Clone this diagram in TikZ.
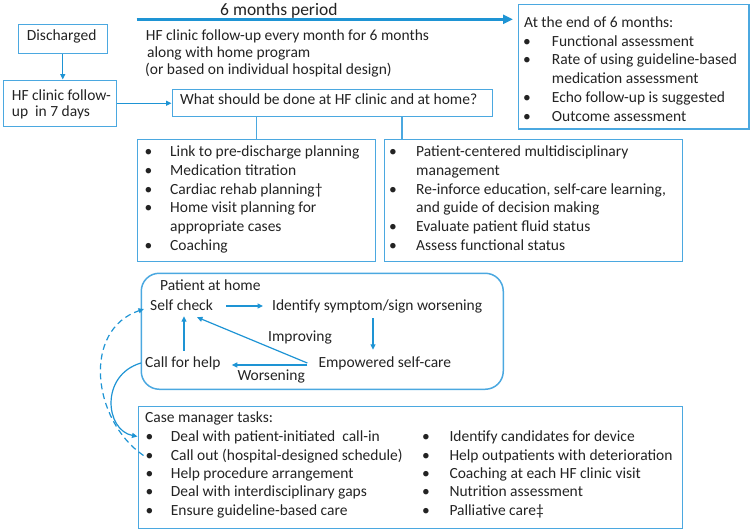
\documentclass[tikz,border=0pt]{standalone}
\usepackage{fontspec}
\setmainfont{Carlito}
\usetikzlibrary{arrows.meta,calc}
\definecolor{boxc}{RGB}{75,168,224}
\definecolor{arrc}{RGB}{30,148,212}
\definecolor{txtc}{RGB}{35,35,35}
\newcommand\fs{\fontsize{15.5}{18.8}\selectfont}
\newcommand\fscm{\fontsize{15.5}{18.4}\selectfont}
\newcommand\bl{\textbullet}
\begin{document}
\begin{tikzpicture}[x=1pt,y=-1pt,
  box/.style={draw=boxc,line width=1.5pt,anchor=north west,inner sep=0pt},
  txt/.style={anchor=base west,inner sep=0pt,font=\fs,text=txtc},
  lbl/.style={txt,text height=11pt,text depth=3pt},
  arr/.style={draw=arrc,line width=1.2pt,-{Triangle[length=5.5pt,width=5pt]}},
  con/.style={draw=boxc,line width=1.3pt}]
\useasboundingbox (0,0) rectangle (751,530);

% boxes
\node[box,minimum width=230.5pt,minimum height=124.5pt] (endbox) at (517.5,3.5) {};
\node[box,minimum width=89pt,minimum height=29pt] (dis) at (17.5,23.5) {};
\node[box,minimum width=113pt,minimum height=46pt] (hf) at (2.5,79.5) {};
\node[box,minimum width=320pt,minimum height=27pt] (what) at (171.5,88.5) {};
\node[box,minimum width=238pt,minimum height=122pt] (lbox) at (136.5,138.5) {};
\node[box,minimum width=298pt,minimum height=122pt] (rbox) at (383.5,138.5) {};
\node[box,rounded corners=18pt,minimum width=362pt,minimum height=116pt] (phome) at (140.5,272.5) {};
\node[box,minimum width=544pt,minimum height=122pt] (cm) at (137.5,405.5) {};

% top period arrow
\coordinate (tstart) at (136.7,19.3);
\node[txt,font=\fontsize{17.5}{20}\selectfont] (period) at (220,15) {6 months period};
\node[txt] (pl1) at (145.7,40) {HF clinic follow-up every month for 6 months};
\node[txt] (pl2) at (147,57.3) {along with home program};
\node[txt] (pl3) at (145,74.5) {(or based on individual hospital design)};
\draw[draw=arrc,line width=3pt,-{Triangle[length=10pt,width=9pt]}] (tstart) -- ([xshift=-4.5pt,yshift=-15.8pt]endbox.north west);

% end box text
\node[txt] (endt) at (524,27) {At the end of 6 months:};
\node[txt] (endl) at (523,46) {\begin{tabular}[t]{@{}p{28.7pt}@{}l@{}}
\bl & Functional assessment\\
\bl & Rate of using guideline-based\\
    & medication assessment\\
\bl & Echo follow-up is suggested\\
\bl & Outcome assessment
\end{tabular}};

% discharged
\node[txt] (dist) at (26.7,40) {Discharged};
\node[txt] (hf1) at (11.7,100) {HF clinic follow-};
\node[txt] (hf2) at (11.7,116.7) {up\ \ in 7 days};
\draw[arr] (dis.south) -- (dis.south |- hf.north);

% what box
\node[txt] (whatt) at (180,104.3) {What should be done at HF clinic and at home?};
\draw[arr] (hf.east) -- (hf.east -| what.west);
\draw[con] ([xshift=85pt]what.south west) -- ([xshift=85pt]what.south west |- lbox.north);
\draw[con] ([xshift=230.5pt]what.south west) -- ([xshift=230.5pt]what.south west |- rbox.north);

\node[txt] (ll) at (144.5,156.5) {\begin{tabular}[t]{@{}p{25.5pt}@{}l@{}}
\bl & Link to pre-discharge planning\\
\bl & Medication titration\\
\bl & Cardiac rehab planning†\\
\bl & Home visit planning for\\
    & appropriate cases\\
\bl & Coaching
\end{tabular}};
\node[txt] (rl) at (389,156.5) {\begin{tabular}[t]{@{}p{27pt}@{}l@{}}
\bl & Patient-centered multidisciplinary\\
    & management\\
\bl & Re-inforce education, self-care learning,\\
    & and guide of decision making\\
\bl & Evaluate patient fluid status\\
\bl & Assess functional status
\end{tabular}};

% patient at home
\node[txt] (pht) at (160,290.7) {Patient at home};
\node[lbl] (sc) at (150,310) {Self check};
\node[lbl] (id) at (272,310) {Identify symptom/sign worsening};
\node[lbl] (em) at (318.3,367) {Empowered self-care};
\node[lbl] (cf) at (145,367) {Call for help};
\node[txt] (imp) at (268,341) {Improving};
\node[txt] (wor) at (237.3,380.7) {Worsening};

\draw[arr] ([xshift=13pt]sc.east) -- ([xshift=-9pt]id.west);
\draw[arr] ([xshift=101pt,yshift=-5pt]id.south west) -- ([xshift=54.7pt,yshift=6pt]em.north west);
\draw[arr] ([xshift=-11pt]em.west) -- ([xshift=47pt,yshift=-4pt]sc.south west);
\draw[arr] ([xshift=39pt,yshift=5pt]cf.north west) -- ([xshift=34pt,yshift=-3pt]sc.south west);
\draw[arr] ([xshift=-11pt,yshift=-2pt]em.west) -- ([xshift=11pt,yshift=-2pt]cf.east);

% case manager
\node[txt] (cmt) at (145,422) {Case manager tasks:};
\node[txt,font=\fscm] (cml) at (145.3,441.7) {\begin{tabular}[t]{@{}p{25.4pt}@{}l@{}}
\bl & Deal with patient-initiated\ \ call-in\\
\bl & Call out (hospital-designed schedule)\\
\bl & Help procedure arrangement\\
\bl & Deal with interdisciplinary gaps\\
\bl & Ensure guideline-based care
\end{tabular}};
\node[txt,font=\fscm] (cmr) at (422,441.7) {\begin{tabular}[t]{@{}p{27.3pt}@{}l@{}}
\bl & Identify candidates for device\\
\bl & Help outpatients with deterioration\\
\bl & Coaching at each HF clinic visit\\
\bl & Nutrition assessment\\
\bl & Palliative care‡
\end{tabular}};

% curves
\draw[arr] ([xshift=-4pt]cf.west) .. controls (100,375) and (105,430) .. ([yshift=-31pt]cm.north west);
\draw[arr,dashed,dash pattern=on 6pt off 4pt] ([xshift=6pt,yshift=-50pt]cm.north west) .. controls (92,420) and (82,330) .. ([xshift=-6pt,yshift=-3pt]sc.west);
\end{tikzpicture}
\end{document}
